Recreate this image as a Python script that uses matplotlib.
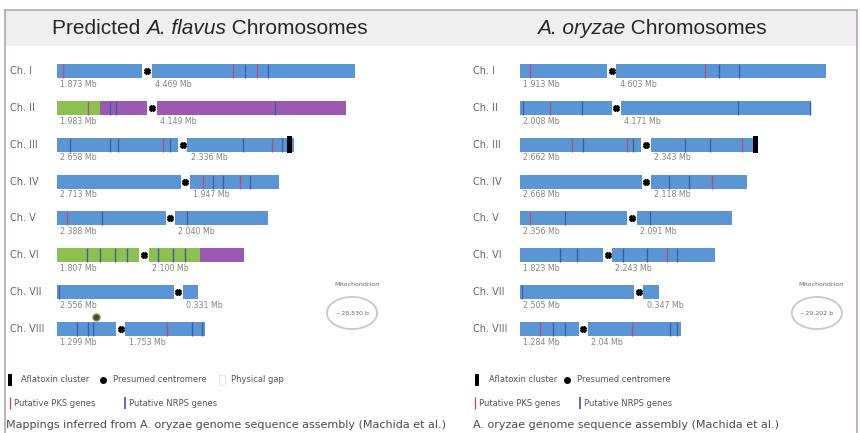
import matplotlib.pyplot as plt
from matplotlib.patches import Ellipse, Rectangle
from matplotlib.lines import Line2D

plt.rcParams['font.family'] = ['DejaVu Sans']

# ---- data -------------------------------------------------------------
chrom_names = ["Ch. I", "Ch. II", "Ch. III", "Ch. IV", "Ch. V", "Ch. VI", "Ch. VII", "Ch. VIII"]

# arm lengths (Mb), left arm / right arm of the centromere
flavus_arm1 = ["1.873", "1.983", "2.658", "2.713", "2.388", "1.807", "2.556", "1.299"]
flavus_arm2 = ["4.469", "4.149", "2.336", "1.947", "2.040", "2.100", "0.331", "1.753"]
oryzae_arm1 = ["1.913", "2.008", "2.662", "2.668", "2.356", "1.823", "2.505", "1.284"]
oryzae_arm2 = ["4.603", "4.171", "2.343", "2.118", "2.091", "2.243", "0.347", "2.04"]

# coloured regions on the predicted A. flavus map: (chrom, start, end)
flavus_green = [(1, 0.0, 0.94), (5, 0.0, 3.14)]
flavus_purple = [(1, 0.94, 9.0), (5, 3.14, 9.0)]

# gene positions along the drawn chromosome (Mb): (chrom, position)
flavus_pks = [(0, 0.13), (0, 3.86), (0, 4.39), (1, 0.68), (2, 2.33), (2, 4.71),
              (3, 3.20), (3, 4.01), (4, 0.22), (7, 2.41)]
flavus_nrps = [(0, 4.12), (0, 4.63), (1, 1.16), (1, 1.30), (1, 4.78),
               (2, 0.28), (2, 1.16), (2, 1.34), (2, 2.48), (2, 4.08), (2, 4.93),
               (3, 3.42), (3, 3.64), (3, 4.23), (4, 0.99), (4, 2.85),
               (5, 0.66), (5, 0.94), (5, 1.27), (5, 1.53), (5, 2.22), (5, 2.54), (5, 2.81),
               (6, 0.04), (7, 0.44), (7, 0.68), (7, 0.79), (7, 2.96), (7, 3.18)]
oryzae_pks = [(0, 0.22), (0, 4.06), (1, 0.66), (2, 1.14), (2, 2.35), (2, 4.87),
              (3, 4.21), (4, 0.22), (5, 3.22), (7, 0.44), (7, 2.46)]
oryzae_nrps = [(0, 4.36), (0, 4.80), (1, 0.07), (1, 1.36), (1, 4.78), (1, 6.35),
               (2, 1.38), (2, 2.48), (2, 3.62), (2, 4.17), (3, 3.27), (3, 3.71),
               (4, 0.99), (4, 2.85), (5, 0.88), (5, 1.25), (5, 2.26), (5, 2.79), (5, 3.44),
               (6, 0.04), (7, 0.72), (7, 0.99), (7, 3.29), (7, 3.44)]

# aflatoxin cluster (chrom, position)
flavus_afla = [(2, 5.10)]
oryzae_afla = [(2, 5.17)]
# extra marker above Ch. VIII in A. flavus
flavus_dot = [(7, 0.85)]

mito_flavus = "~28,530 b"
mito_oryzae = "~29,202 b"

# ---- style --------------------------------------------------------------
BLUE = "#5b96d4"
GREEN = "#8cc152"
PURPLE = "#9b59b0"
PKS_C = "#b0527e"
NRPS_C = "#3a5fa8"
GAP = 0.2
BAR_H = 0.38
PX_MB = 45.6
ROW_PX = 36.85
ROW0 = 71

fig = plt.figure(figsize=(8.6, 4.33), dpi=100)
W, H = 860, 433

# panel frame and title band
fig.patches.append(Rectangle((5 / W, 1 - 46 / H), 852 / W, 35 / H, transform=fig.transFigure,
                             facecolor="#efefef", edgecolor="none", zorder=-5))
for xs, ys in [([5, 857], [10, 10]), ([5, 5], [10, 433]), ([857, 857], [10, 433])]:
    fig.add_artist(Line2D([x / W for x in xs], [1 - y / H for y in ys], color="#b3a3b8",
                          lw=1.2, zorder=-4))


def make_ax(x0_px, xmax):
    ax = fig.add_axes([x0_px / W, 0, xmax * PX_MB / W, 1])
    ax.set_xlim(0, xmax)
    ax.set_ylim((H - ROW0) / ROW_PX, -ROW0 / ROW_PX)
    ax.axis("off")
    ax.patch.set_alpha(0)
    return ax


def segs(a0, a1, regions, i):
    out = []
    for c, r0, r1 in regions:
        if c != i:
            continue
        s, e = max(a0, r0), min(a1, r1)
        if e > s:
            out.append((s, e))
    return out


def draw_panel(ax, arm1, arm2, green, purple, pks, nrps, afla, mito_txt, mito_x, label_x):
    for i, name in enumerate(chrom_names):
        a1, a2 = float(arm1[i]), float(arm2[i])
        arms = [(0, a1), (a1 + GAP, a1 + GAP + a2)]
        for s, e in arms:
            ax.barh(i, e - s, left=s, height=BAR_H, color=BLUE, zorder=2)
            for regions, col in [(green, GREEN), (purple, PURPLE)]:
                for rs, re in segs(s, e, regions, i):
                    ax.barh(i, re - rs, left=rs, height=BAR_H, color=col, zorder=2)
        ax.plot(a1 + GAP / 2, i, marker="X", ms=4, color="black", zorder=4)
        ax.text(label_x, i, name, fontsize=7, color="#666666", va="center", ha="left")
        ax.text(0.07, i + 0.36, arm1[i] + " Mb", fontsize=5.7, color="#858585", va="center")
        ax.text(a1 + GAP + 0.07, i + 0.36, arm2[i] + " Mb", fontsize=5.7, color="#858585",
                va="center")
    for items, col in [(pks, PKS_C), (nrps, NRPS_C)]:
        ax.vlines([p for _, p in items], [c - BAR_H / 2 for c, _ in items],
                  [c + BAR_H / 2 for c, _ in items], color=col, lw=1.0, zorder=3)
    for c, p in afla:
        ax.barh(c, 0.1, left=p - 0.05, height=0.46, color="black", zorder=4)
    my = (313 - ROW0) / ROW_PX
    ax.add_patch(Ellipse((mito_x, my), 1.1, 0.87, facecolor="white", edgecolor="#c8c8c8", lw=1.3))
    ax.text(mito_x, my, mito_txt, fontsize=4.5, color="#666666", ha="center", va="center")
    ax.text(mito_x + 0.1, (285 - ROW0) / ROW_PX, "Mitochondrion", fontsize=4.5,
            color="#666666", ha="center", va="center")


left = make_ax(57, 8.0)
right = make_ax(520, 7.3)

draw_panel(left, flavus_arm1, flavus_arm2, flavus_green, flavus_purple,
           flavus_pks, flavus_nrps, flavus_afla, mito_flavus, 6.47, -1.03)
draw_panel(right, oryzae_arm1, oryzae_arm2, [], [], oryzae_pks, oryzae_nrps,
           oryzae_afla, mito_oryzae, 6.51, -1.03)

for c, p in flavus_dot:
    left.plot(p, c - 0.33, marker="o", ms=5, color="#4a4a2a", mec="#8a8a40", zorder=5)

# titles: normal + italic pieces laid side by side
renderer = fig.canvas.get_renderer()


def title(pieces, cx_px, cy_px):
    kw = dict(fontsize=15, family="Liberation Sans", color="#262626", va="center", ha="left")
    widths = []
    for txt, style in pieces:
        t = fig.text(0, 0, txt, style=style, **kw)
        widths.append(t.get_window_extent(renderer).width)
        t.remove()
    x = cx_px - sum(widths) / 2
    for (txt, style), w in zip(pieces, widths):
        fig.text(x / W, 1 - cy_px / H, txt, style=style, **kw)
        x += w


title([("Predicted ", "normal"), ("A. flavus", "italic"), (" Chromosomes", "normal")], 210, 28)
title([("A. oryzae", "italic"), (" Chromosomes", "normal")], 652, 28)

# legends
r1 = (380 - ROW0) / ROW_PX
r2 = (403 - ROW0) / ROW_PX
rb = (425 - ROW0) / ROW_PX


def legend(ax, x_afla, x_cen, x_pks, x_nrps, x_gap=None):
    ax.barh(r1, 0.09, left=x_afla - 0.045, height=0.32, color="black", clip_on=False)
    ax.text(x_afla + 0.25, r1, "Aflatoxin cluster", fontsize=6, color="#555555", va="center")
    ax.plot(x_cen, r1, marker="o", ms=4, color="black", clip_on=False)
    ax.text(x_cen + 0.22, r1, "Presumed centromere", fontsize=6, color="#555555", va="center")
    if x_gap is not None:
        ax.add_patch(Rectangle((x_gap - 0.065, r1 - 0.14), 0.13, 0.28, facecolor="white",
                               edgecolor="#bbbbbb", lw=0.6, ls=":", clip_on=False))
        ax.text(x_gap + 0.2, r1, "Physical gap", fontsize=6, color="#555555", va="center")
    ax.vlines([x_pks], r2 - 0.15, r2 + 0.15, color="#d04040", lw=0.9, clip_on=False)
    ax.text(x_pks + 0.08, r2, "Putative PKS genes", fontsize=6, color="#555555", va="center")
    ax.vlines([x_nrps], r2 - 0.15, r2 + 0.15, color="#4050c0", lw=1.2, clip_on=False)
    ax.text(x_nrps + 0.08, r2, "Putative NRPS genes", fontsize=6, color="#555555", va="center")


legend(left, -1.03, 1.01, -1.03, 1.49, x_gap=3.62)
legend(right, -0.94, 1.03, -0.99, 1.32)

left.text(-1.12, rb, "Mappings inferred from A. oryzae genome sequence assembly (Machida et al.)",
          fontsize=8, color="#4a4a4a", va="center")
right.text(-1.03, rb, "A. oryzae genome sequence assembly (Machida et al.)",
           fontsize=8, color="#4a4a4a", va="center")

fig.savefig("out.png", dpi=100)
